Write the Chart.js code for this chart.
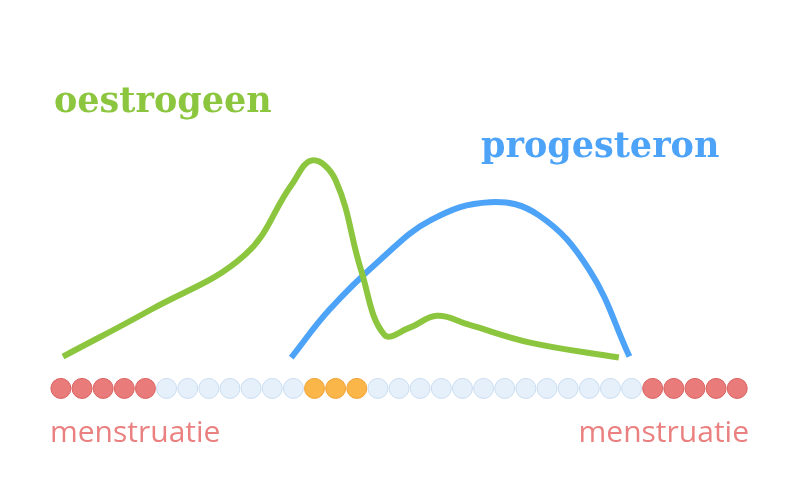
<!DOCTYPE html><html><head><meta charset="utf-8">
<script src="https://cdn.jsdelivr.net/npm/chart.js@4"></script>
<style>html,body{margin:0;background:#fff}#w{width:800px;height:500px}</style></head><body><div id="w"><canvas id="c"></canvas></div>
<script>
const dayTypes=['m','m','m','m','m','n','n','n','n','n','n','n','o','o','o','n','n','n','n','n','n','n','n','n','n','n','n','n','m','m','m','m','m'];
const oestrogenX=[0.1,4.25,8.7,10.9,11.9,13,14.2,15.3,16.5,17.8,19.3,22.2,26.4];
const oestrogenY=[143,190,245,315,340,320,230,165,172,184,175,157,142];
const progesteronX=[10.9,12.7,15.1,17.5,20.3,22.6,25,26.9];
const progesteronY=[142,190,240,280,298,285,230,143];
const labels={oestrogen:'oestrogeen',progesteron:'progesteron',menstruatie:'menstruatie'};
const colFill={m:'#e97b7b',n:'#e6f0fa',o:'#fbb64a'};
const colBorder={m:'#d95f5f',n:'#c9dcf0',o:'#f0a030'};
const textPlugin={id:'t',afterDraw(ch){const c=ch.ctx;c.save();c.textBaseline='alphabetic';
c.font='bold 35px "DejaVu Serif"';c.fillStyle='#8cc63f';c.fillText(labels.oestrogen,54,112);
c.fillStyle='#4da3f7';c.fillText(labels.progesteron,481,157);
c.font='30px "Open Sans"';c.fillStyle='#ea8080';c.fillText(labels.menstruatie,50,442);
c.textAlign='right';c.fillText(labels.menstruatie,749,442);c.restore();}};
new Chart(document.getElementById('c'),{type:'scatter',data:{datasets:[
{data:oestrogenX.map((x,i)=>({x,y:oestrogenY[i]})),showLine:true,borderColor:'#8cc63f',borderWidth:6,tension:0.4,pointRadius:0},
{data:progesteronX.map((x,i)=>({x,y:progesteronY[i]})),showLine:true,borderColor:'#4da3f7',borderWidth:6,tension:0.4,pointRadius:0},
{data:dayTypes.map((t,i)=>({x:i,y:111})),pointRadius:10,pointBackgroundColor:dayTypes.map(t=>colFill[t]),pointBorderColor:dayTypes.map(t=>colBorder[t]),pointBorderWidth:1}
]},options:{responsive:true,maintainAspectRatio:false,animation:false,layout:{padding:0},
plugins:{legend:{display:false},tooltip:{enabled:false}},
scales:{x:{type:'linear',min:-2.36,max:34.45,display:false},y:{min:10,max:490,display:false}}},plugins:[textPlugin]});
</script></body></html>
